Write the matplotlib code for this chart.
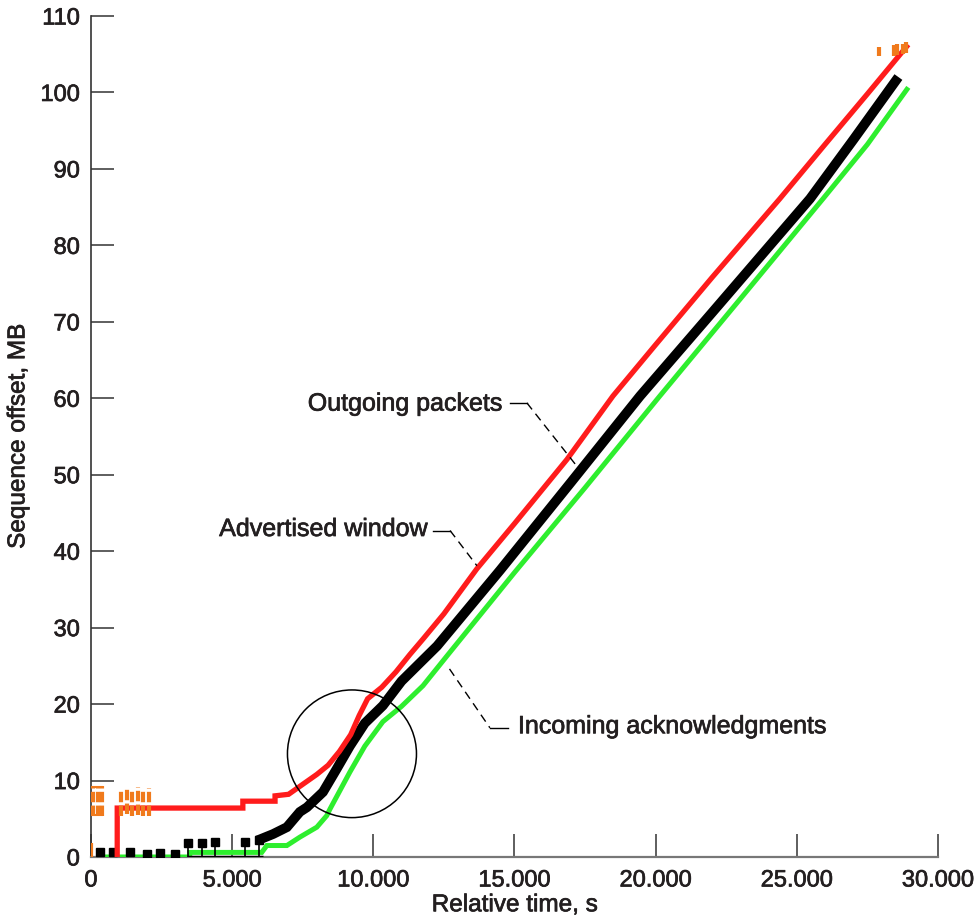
import numpy as np
import matplotlib
matplotlib.use('Agg')
import matplotlib.pyplot as plt
import matplotlib.patheffects as pe
from matplotlib.patches import Ellipse
from matplotlib.ticker import FuncFormatter

plt.rcParams['font.family'] = ['Liberation Sans', 'DejaVu Sans']

TEXT = '#231f20'
# a thin outline to give the regular face a medium weight
BOLDISH = [pe.withStroke(linewidth=0.5, foreground=TEXT)]

# outgoing packets (red)
out_t = [930, 930, 5380, 5380, 6520, 6520, 7000, 7500, 8000, 8400, 8800, 9200,
         9500, 9800, 10300, 10800, 11300, 11760, 12500, 13670, 15000, 16860,
         18490, 20000, 22000, 24400, 26000, 27500, 28890]
out_mb = [0, 6.4, 6.4, 7.3, 7.3, 8.0, 8.2, 9.5, 10.8, 12.0, 13.8, 16.0,
          18.5, 20.7, 22.2, 24.2, 26.5, 28.5, 31.8, 37.7, 43.6, 52.0,
          60.3, 67.0, 75.8, 86.1, 93.2, 99.8, 106.0]

# advertised window (black)
win_t = [6050, 6450, 6940, 7400, 7650, 8220, 8700, 9170, 9700, 10340, 11000,
         12260, 14490, 17000, 19450, 22000, 25470, 27000, 28500]
win_mb = [2.4, 3.0, 3.9, 5.9, 6.5, 8.5, 11.5, 14.5, 17.5, 19.8, 23.0,
          27.6, 37.5, 49.0, 60.3, 71.2, 86.1, 93.8, 101.5]
win_early_t = [320, 780, 1380, 1980, 2440, 2980]
win_early_mb = [0.6, 0.6, 0.6, 0.4, 0.5, 0.4]
win_tick_t = [3450, 3950, 4400, 5450, 5950]
win_tick_mb = [1.8, 1.8, 1.9, 1.9, 2.2]

# incoming acknowledgments (green)
ack_t = [300, 3500, 3500, 6050, 6230, 6940, 7400, 8000, 8350, 8470, 9170,
         9700, 10340, 11000, 11760, 12610, 15000, 17500, 20150, 23000, 25930,
         27500, 28900]
ack_mb = [0, 0, 0.6, 0.6, 1.5, 1.5, 2.6, 3.9, 5.4, 6.3, 11.1,
          14.5, 17.7, 19.7, 22.4, 26.3, 37.2, 48.3, 60.3, 73.0, 86.1,
          93.2, 100.4]

# retransmission marks (orange)
retx_t = [-60, 90, 240, 380, 1080, 1260, 1460, 1660, 1860, 2060]
retx_lo = [5.3, 5.3, 5.3, 5.3, 5.3, 5.6, 5.3, 5.5, 5.3, 5.4]
retx_hi = [9.3, 9.3, 9.3, 9.3, 8.6, 9.1, 8.9, 9.2, 8.6, 9.0]
retx_end_t = [27920, 28450, 28560, 28760, 28880]
retx_end_lo = [104.8, 104.8, 104.9, 105.0, 105.1]
retx_end_hi = [105.9, 106.2, 106.3, 106.4, 106.6]

fig = plt.figure(figsize=(9.77, 9.2), dpi=100)
ax = fig.add_axes([0.0931, 0.0674, 0.8669, 0.9141])

# green acks
ax.plot(ack_t, ack_mb, color='#2eee2e', linewidth=3.6, solid_joinstyle='miter',
        zorder=3)

# black advertised window
ax.hlines(0, 3400, 6100, color='black', linewidth=2.5, zorder=4)
ax.vlines(win_tick_t, 0, win_tick_mb, color='black', linewidth=1.2, zorder=4)
ax.plot(win_tick_t, win_tick_mb, 's', color='black', markersize=5.5, zorder=4)
ax.plot(win_early_t, win_early_mb, 's', color='black', markersize=5.5, zorder=4)
ax.plot(win_t, win_mb, color='black', linewidth=7.0, solid_joinstyle='miter',
        zorder=4)

# red outgoing packets
ax.plot(out_t, out_mb, color='#ff1c1c', linewidth=3.8, solid_joinstyle='miter',
        zorder=5)

# orange retransmissions
ax.vlines(retx_t, retx_lo, retx_hi, color='#f07a1c', linewidth=3.0,
          linestyles=(0, (2.5, 0.8)), zorder=6)
ax.hlines([5.5, 9.1], -100, 420, color='#f07a1c', linewidth=1.5, zorder=6)
ax.vlines([0], 0, 1.8, color='#f07a1c', linewidth=3.0, zorder=6)
ax.vlines(retx_end_t, retx_end_lo, retx_end_hi, color='#f07a1c',
          linewidth=3.0, zorder=6)

# highlighted region
ax.add_patch(Ellipse((9245, 13.5), 4570, 16.7, fill=False, edgecolor='black',
                     linewidth=1.1, zorder=7))

# labels with leader lines
lead = dict(color='black', linewidth=1.0, zorder=8)
ax.text(14560, 59.3, 'Outgoing packets', ha='right', va='center',
        fontsize=18, color=TEXT, path_effects=BOLDISH)
ax.plot([14840, 15440], [59.4, 59.4], **lead)
ax.plot([15440, 17215], [59.4, 51.1], linestyle=(0, (6, 4)), **lead)

ax.text(11900, 42.9, 'Advertised window', ha='right', va='center',
        fontsize=18, color=TEXT, path_effects=BOLDISH)
ax.plot([12110, 12720], [42.7, 42.7], **lead)
ax.plot([12720, 13670], [42.7, 38.1], linestyle=(0, (6, 4)), **lead)

ax.text(15125, 17.1, 'Incoming acknowledgments', ha='left', va='center',
        fontsize=18, color=TEXT, path_effects=BOLDISH)
ax.plot([14130, 14770], [16.9, 16.9], **lead)
ax.plot([12700, 14130], [24.6, 16.9], linestyle=(0, (6, 4)), **lead)

ax.set_xlim(0, 30000)
ax.set_ylim(0, 110)
ax.set_xticks(np.arange(0, 30001, 5000))
ax.set_yticks(np.arange(0, 111, 10))
ax.xaxis.set_major_formatter(FuncFormatter(lambda v, p: f'{int(v):,}'.replace(',', '.')))

for side in ('top', 'right'):
    ax.spines[side].set_visible(False)
ax.spines['left'].set_color('#333333')
ax.spines['left'].set_linewidth(1.2)
ax.spines['bottom'].set_color('#777777')
ax.spines['bottom'].set_linewidth(1.6)

ax.tick_params(direction='in', length=16.5, width=1.1, color='#333333',
               labelsize=17, labelcolor=TEXT)
ax.tick_params(axis='y', pad=8)
ax.tick_params(axis='x', pad=9)
for lbl in ax.get_xticklabels() + ax.get_yticklabels():
    lbl.set_path_effects(BOLDISH)

ax.set_xlabel('Relative time, s', fontsize=17.5, color=TEXT, labelpad=2,
              path_effects=BOLDISH)
ax.set_ylabel('Sequence offset, MB', fontsize=17.5, color=TEXT, labelpad=8,
              path_effects=BOLDISH)

fig.savefig('out.png', dpi=100)
plt.close(fig)
